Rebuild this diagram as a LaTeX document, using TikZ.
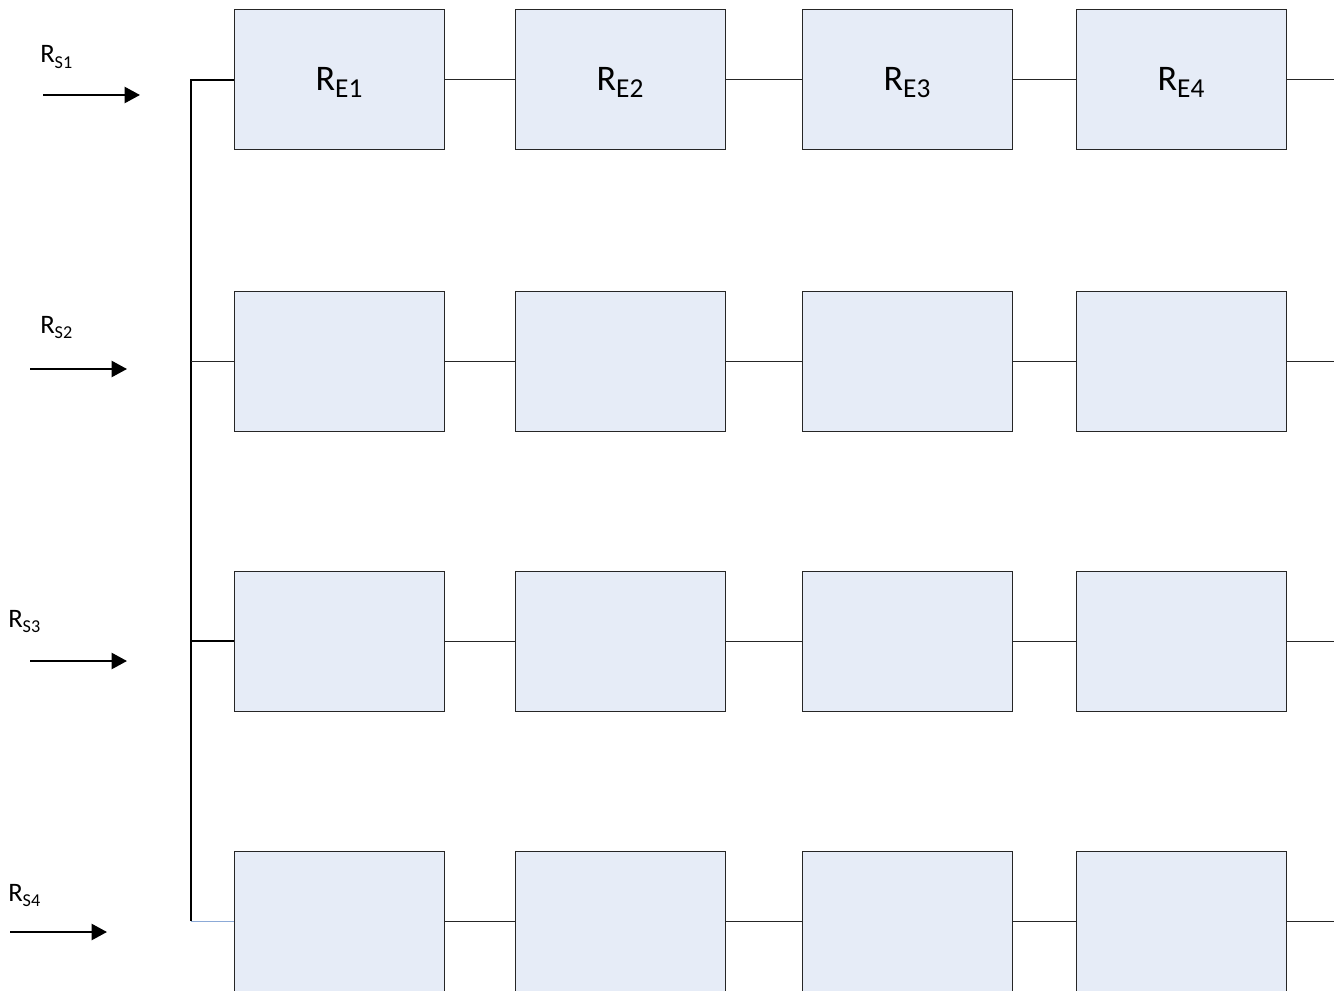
\documentclass[tikz,border=0pt]{standalone}
\usepackage{fontspec}
\setmainfont{Carlito}
\usepackage{graphicx}
\usetikzlibrary{arrows.meta}
\definecolor{boxfill}{RGB}{230,236,247}
\definecolor{linkblue}{RGB}{140,170,215}
\newcommand{\mysubtxt}[1]{\raisebox{-0.22em}{\scalebox{0.68}{#1}}}
\newcommand{\mysubbig}[1]{\raisebox{-0.2em}{\scalebox{0.76}{#1}}}
\begin{document}
\begin{tikzpicture}[x=0.75pt,y=-0.75pt,
  box/.style={draw=black!85, line width=0.75pt, fill=boxfill, anchor=north west,
    minimum width=157.5pt, minimum height=105pt, inner sep=0pt, outer sep=0pt},
  link/.style={draw=black!85, line width=0.75pt},
  bus/.style={draw=black, line width=1.5pt},
  inarrow/.style={draw=black, line width=1.7pt, -{Triangle[length=11.5pt,width=12pt]}},
  slabel/.style={anchor=base west, inner sep=0pt, font=\fontsize{20pt}{24pt}\selectfont},
  elabel/.style={font=\fontsize{27pt}{32pt}\selectfont}]
\useasboundingbox (0,0) rectangle (1334,991);
\clip (0,0) rectangle (1334,991);
% boxes
\foreach \r/\y in {1/10,2/291,3/571,4/851}{
  \foreach \c/\x in {1/234,2/515,3/802,4/1076}{
    \node[box] (b\r\c) at (\x,\y) {};
  }
}
\node[elabel] at ([yshift=-2pt]b11.center) {R\mysubbig{E1}};
\node[elabel] at ([yshift=-2pt]b12.center) {R\mysubbig{E2}};
\node[elabel] at ([yshift=-2pt]b13.center) {R\mysubbig{E3}};
\node[elabel] at ([yshift=-2pt]b14.center) {R\mysubbig{E4}};
% series links and right stubs
\foreach \r/\y in {1/80,2/361,3/641,4/921}{
  \draw[link] (b\r1.east) -- (b\r2.west);
  \draw[link] (b\r2.east) -- (b\r3.west);
  \draw[link] (b\r3.east) -- (b\r4.west);
  \coordinate (e\r) at (1334,\y);
  \draw[link] (b\r4.east) -- (e\r);
}
% bus
\coordinate (bt) at (191,80);
\coordinate (j2) at (191,361);
\coordinate (j3) at (191,641);
\coordinate (bb) at (191,921);
\draw[bus] (b11.west) -- (bt) -- (bb);
\draw[link] (j2) -- (b21.west);
\draw[draw=black, line width=1.2pt] (j3) -- (b31.west);
\draw[draw=linkblue, line width=0.75pt] (bb) -- (b41.west);
% inputs
\coordinate (s1) at (43,95);  \coordinate (t1) at (140,95);
\coordinate (s2) at (30,369); \coordinate (t2) at (127,369);
\coordinate (s3) at (30,661); \coordinate (t3) at (127,661);
\coordinate (s4) at (10,932); \coordinate (t4) at (107,932);
\foreach \i in {1,2,3,4}{ \draw[inarrow] (s\i) -- (t\i); }
\node[slabel] (l1) at (40,63) {R\mysubtxt{S1}};
\node[slabel] (l2) at (40,333) {R\mysubtxt{S2}};
\node[slabel] (l3) at (8,627) {R\mysubtxt{S3}};
\node[slabel] (l4) at (8,901) {R\mysubtxt{S4}};
\end{tikzpicture}
\end{document}
